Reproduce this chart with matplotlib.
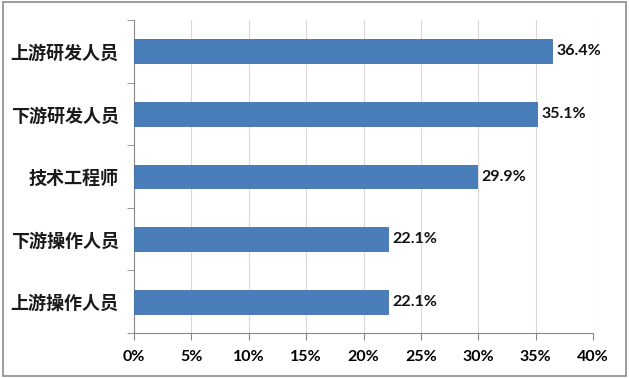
import matplotlib.pyplot as plt
import numpy as np
from matplotlib.patches import Rectangle

plt.rcParams['font.family'] = ['Noto Sans CJK SC', 'DejaVu Sans']

categories = ['上游操作人员', '下游操作人员', '技术工程师', '下游研发人员', '上游研发人员']
values = [22.1, 22.1, 29.9, 35.1, 36.4]
xticks = [0, 5, 10, 15, 20, 25, 30, 35, 40]

fig = plt.figure(figsize=(6.29, 3.78), dpi=100)
ax = fig.add_axes([0.213, 0.119, 0.730, 0.828])

y = np.arange(len(categories))
ax.barh(y, values, height=0.38, color='#4a7ebb', edgecolor='#3f6fa8', linewidth=0.6, zorder=3)

for yi, v in zip(y, values):
    ax.text(v + 0.4, yi, f'{v:.1f}%', va='center', ha='left', fontsize=11.5,
            fontweight='bold', color='#111111', family=['Lato', 'DejaVu Sans'])

ax.set_xlim(0, 40)
ax.set_ylim(-0.5, len(categories) - 0.5)
ax.set_xticks(xticks)
ax.set_xticklabels([f'{t}%' for t in xticks], fontsize=11.5, fontweight='bold',
                   family=['Lato', 'DejaVu Sans'])
ax.set_yticks(y)
ax.set_yticklabels(categories, fontsize=13, fontweight='bold', color='#1a1a1a')
ax.set_yticks(np.arange(-0.5, len(categories), 1), minor=True)
ax.tick_params(axis='y', which='major', length=0, pad=11)
ax.tick_params(axis='y', which='minor', length=5, color='#888888', direction='out')
ax.tick_params(axis='x', length=5, color='#888888', pad=7)

ax.grid(axis='x', color='#d9d9d9', linewidth=0.8, zorder=0)
for s in ['top', 'right']:
    ax.spines[s].set_visible(False)
for s in ['left', 'bottom']:
    ax.spines[s].set_color('#888888')

fig.patches.append(Rectangle((0.004, 0.006), 0.992, 0.988, transform=fig.transFigure,
                             fill=False, edgecolor='#8c8c8c', linewidth=1.2))

fig.savefig('out.png', dpi=100)
